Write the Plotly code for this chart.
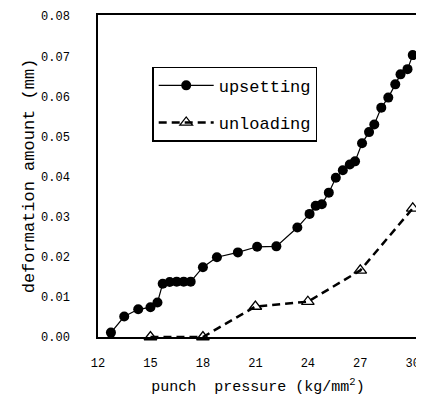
import plotly.graph_objects as go

up_x = [12.74, 13.5, 14.3, 15.0, 15.4, 15.7, 16.1, 16.5, 16.9, 17.3, 18.0, 18.8, 20.0,
        21.1, 22.2, 23.4, 24.1, 24.45, 24.8, 25.2, 25.6, 26.0, 26.4, 26.7, 27.1, 27.5,
        27.8, 28.2, 28.6, 29.0, 29.3, 29.7, 30.0]
up_y = [0.0011, 0.0051, 0.0069, 0.0074, 0.0086, 0.0133, 0.0137, 0.0138, 0.0138, 0.0138,
        0.0174, 0.0199, 0.0211, 0.0225, 0.0226, 0.0273, 0.0307, 0.0327, 0.0331, 0.0360,
        0.0397, 0.0416, 0.0430, 0.0438, 0.0483, 0.0511, 0.0530, 0.0572, 0.0597, 0.0630,
        0.0655, 0.0668, 0.0703]

un_x = [15, 18, 21, 24, 27, 30]
un_y = [0.0, 0.0, 0.0076, 0.0088, 0.0166, 0.0321]

x_range = [12, 30.3]
y_range = [0, 0.0803]
x_tick_step = 3
y_tick_step = 0.01
y_minor_step = 0.005

FONT = "Liberation Mono, DejaVu Sans Mono, monospace"

fig = go.Figure()
fig.add_trace(go.Scatter(
    x=up_x, y=up_y, mode="lines+markers", name="upsetting", legendgroup="a",
    line=dict(color="black", width=1.2),
    marker=dict(symbol="circle", size=10, color="black"),
    cliponaxis=False,
))
fig.add_trace(go.Scatter(
    x=un_x, y=un_y, mode="lines+markers", name="unloading", legendgroup="b",
    line=dict(color="black", width=2.5, dash="8px,5px"),
    marker=dict(symbol="triangle-up-open", size=11, color="black", line=dict(width=1.3)),
    cliponaxis=False,
))

# the page body adds an 8px offset, so the figure is 8px smaller each way
fig.update_layout(
    width=416, height=401,
    margin=dict(l=90, r=6, t=7, b=72),
    paper_bgcolor="white", plot_bgcolor="white",
    font=dict(family=FONT, color="black", size=12),
    legend=dict(
        x=0.17, y=0.84, xanchor="left", yanchor="top",
        bordercolor="black", borderwidth=1.3, bgcolor="white",
        font=dict(family=FONT, size=17, color="black"),
        tracegroupgap=12, itemwidth=55,
    ),
    # primary axes: labels pushed away from the frame with invisible outside ticks
    xaxis=dict(
        range=x_range, tickmode="linear", tick0=12, dtick=x_tick_step,
        ticks="outside", ticklen=14, tickcolor="rgba(0,0,0,0)",
        showline=True, linecolor="black", linewidth=2, mirror=True,
        showgrid=False, zeroline=False, automargin=False,
        tickfont=dict(family=FONT, size=12),
        title=dict(text="punch  pressure (kg/mm<sup>2</sup>)", font=dict(family=FONT, size=15), standoff=10),
    ),
    yaxis=dict(
        range=y_range, tickmode="linear", tick0=0, dtick=y_tick_step, tickformat=".2f",
        ticks="outside", ticklen=24, tickcolor="rgba(0,0,0,0)",
        showline=True, linecolor="black", linewidth=1.5, mirror=True,
        showgrid=False, zeroline=False, automargin=False,
        tickfont=dict(family=FONT, size=12),
        title=dict(text="deformation amount (mm)", font=dict(family=FONT, size=17), standoff=2),
    ),
    # overlay axes: inside tick marks only
    xaxis2=dict(
        overlaying="x", side="bottom", anchor="y2",
        range=x_range, tickmode="linear", tick0=12, dtick=x_tick_step,
        ticks="inside", ticklen=5, tickwidth=1.2, tickcolor="black",
        showticklabels=False, showline=False, showgrid=False, zeroline=False, automargin=False,
    ),
    yaxis2=dict(
        overlaying="y", side="left", anchor="x2",
        range=y_range, tickmode="linear", tick0=0, dtick=y_tick_step,
        ticks="inside", ticklen=5, tickwidth=1.2, tickcolor="black",
        minor=dict(dtick=y_minor_step, ticks="inside", ticklen=3, tickcolor="black", showgrid=False),
        mirror="ticks", showline=True, linecolor="black", linewidth=1.5,
        showticklabels=False, showgrid=False, zeroline=False, automargin=False,
    ),
)

fig.write_html("out.html")
